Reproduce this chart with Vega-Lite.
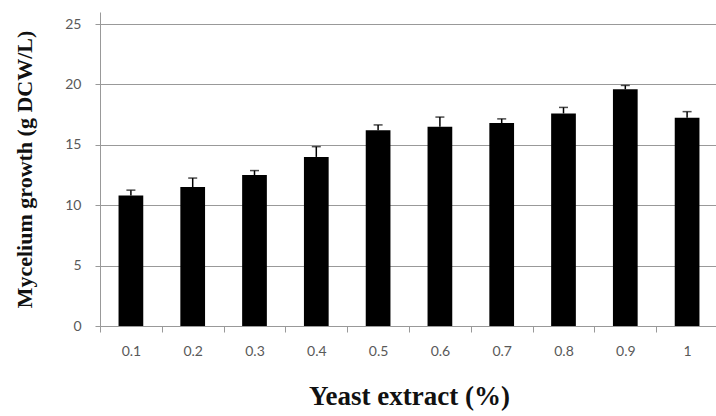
{
  "$schema": "https://vega.github.io/schema/vega-lite/v6.json",
  "autosize": "none",
  "width": 618,
  "height": 314,
  "padding": {"left": 100, "top": 12, "right": 0, "bottom": 90},
  "background": "white",
  "config": {"view": {"stroke": null}},
  "data": {"values": [
    {"c": "0.1", "v": 10.8, "hi": 11.25},
    {"c": "0.2", "v": 11.5, "hi": 12.25},
    {"c": "0.3", "v": 12.5, "hi": 12.87},
    {"c": "0.4", "v": 14.0, "hi": 14.85},
    {"c": "0.5", "v": 16.2, "hi": 16.65},
    {"c": "0.6", "v": 16.5, "hi": 17.3},
    {"c": "0.7", "v": 16.8, "hi": 17.15},
    {"c": "0.8", "v": 17.6, "hi": 18.1},
    {"c": "0.9", "v": 19.6, "hi": 19.92},
    {"c": "1", "v": 17.25, "hi": 17.75}
  ]},
  "encoding": {
    "x": {
      "field": "c", "type": "nominal", "sort": null,
      "scale": {"paddingInner": 0, "paddingOuter": 0},
      "axis": {
        "title": "Yeast extract (%)", "labelAngle": 0, "tickBand": "extent",
        "labelFont": "Lato", "labelFontSize": 14, "labelColor": "#595959", "labelPadding": 12,
        "tickColor": "#999", "tickSize": 6, "domainColor": "#999",
        "titleFont": "Liberation Serif", "titleFontSize": 27, "titleFontWeight": "bold", "titleColor": "#111", "titlePadding": 25
      }
    }
  },
  "layer": [
    {
      "mark": {"type": "bar", "color": "black", "width": {"band": 0.4}},
      "encoding": {
        "y": {
          "field": "v", "type": "quantitative",
          "scale": {"domain": [0, 25]},
          "axis": {
            "title": "Mycelium growth (g DCW/L)", "values": [0, 5, 10, 15, 20, 25],
            "grid": true, "gridColor": "#999", "domainColor": "#999", "tickColor": "#999", "tickSize": 5,
            "labelFont": "Lato", "labelFontSize": 14, "labelColor": "#595959", "labelPadding": 14,
            "titleFont": "Liberation Serif", "titleFontSize": 22, "titleFontWeight": "bold", "titleColor": "#111", "titlePadding": 28
          }
        }
      }
    },
    {
      "mark": {"type": "rule", "color": "black", "strokeWidth": 1.5},
      "encoding": {"y": {"field": "v", "type": "quantitative"}, "y2": {"field": "hi"}}
    },
    {
      "mark": {"type": "tick", "color": "black", "thickness": 1.5, "size": 9},
      "encoding": {"y": {"field": "hi", "type": "quantitative"}}
    }
  ]
}
